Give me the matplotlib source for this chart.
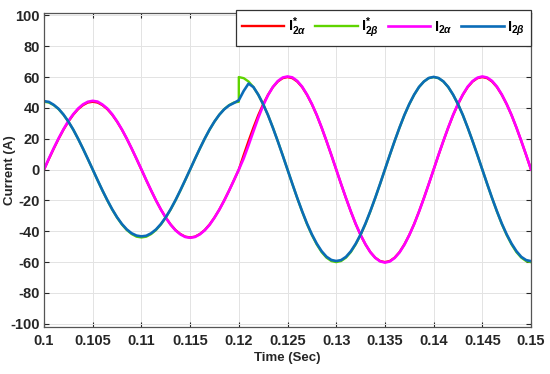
import numpy as np
import matplotlib
matplotlib.use('Agg')
import matplotlib.pyplot as plt

plt.rcParams['font.family'] = ['Liberation Sans', 'DejaVu Sans']
plt.rcParams['font.weight'] = 'bold'
plt.rcParams['axes.unicode_minus'] = False
plt.rcParams['mathtext.fontset'] = 'custom'
plt.rcParams['mathtext.rm'] = 'Liberation Sans:bold'
plt.rcParams['mathtext.bf'] = 'Liberation Sans:bold'
plt.rcParams['mathtext.it'] = 'Liberation Sans:bold:italic'

# time grid, 0.5 ms step
t_pre = np.linspace(0.1, 0.12, 41)
t_post = np.linspace(0.12, 0.15, 61)
t_all = np.linspace(0.1, 0.15, 101)

# references (before / after the step at 0.12 s)
i2a_ref_pre = [0, 6.9, 13.6, 20.0, 25.9, 31.1, 35.6, 39.2, 41.8, 43.5, 44.0,
               43.5, 41.8, 39.2, 35.6, 31.1, 25.9, 20.0, 13.6, 6.9, 0,
               -6.9, -13.6, -20.0, -25.9, -31.1, -35.6, -39.2, -41.8, -43.5, -44.0,
               -43.5, -41.8, -39.2, -35.6, -31.1, -25.9, -20.0, -13.6, -6.9, 0]
i2a_ref_post = [0, 9.4, 18.5, 27.2, 35.3, 42.4, 48.5, 53.5, 57.1, 59.3, 60,
                59.3, 57.1, 53.5, 48.5, 42.4, 35.3, 27.2, 18.5, 9.4, 0,
                -9.4, -18.5, -27.2, -35.3, -42.4, -48.5, -53.5, -57.1, -59.3, -60,
                -59.3, -57.1, -53.5, -48.5, -42.4, -35.3, -27.2, -18.5, -9.4, 0,
                9.4, 18.5, 27.2, 35.3, 42.4, 48.5, 53.5, 57.1, 59.3, 60,
                59.3, 57.1, 53.5, 48.5, 42.4, 35.3, 27.2, 18.5, 9.4, 0]
i2b_ref_pre = [44.0, 43.5, 41.8, 39.2, 35.6, 31.1, 25.9, 20.0, 13.6, 6.9, 0,
               -6.9, -13.6, -20.0, -25.9, -31.1, -35.6, -39.2, -41.8, -43.5, -44.0,
               -43.5, -41.8, -39.2, -35.6, -31.1, -25.9, -20.0, -13.6, -6.9, 0,
               6.9, 13.6, 20.0, 25.9, 31.1, 35.6, 39.2, 41.8, 43.5, 44.0]
i2b_ref_post = [60, 59.3, 57.1, 53.5, 48.5, 42.4, 35.3, 27.2, 18.5, 9.4, 0,
                -9.4, -18.5, -27.2, -35.3, -42.4, -48.5, -53.5, -57.1, -59.3, -60,
                -59.3, -57.1, -53.5, -48.5, -42.4, -35.3, -27.2, -18.5, -9.4, 0,
                9.4, 18.5, 27.2, 35.3, 42.4, 48.5, 53.5, 57.1, 59.3, 60,
                59.3, 57.1, 53.5, 48.5, 42.4, 35.3, 27.2, 18.5, 9.4, 0,
                -9.4, -18.5, -27.2, -35.3, -42.4, -48.5, -53.5, -57.1, -59.3, -60]

# measured currents
i2a_meas = [0, 7.2, 13.9, 20.3, 26.2, 31.5, 35.9, 39.6, 42.3, 44.0, 44.6,
            44.1, 42.2, 39.6, 35.9, 31.3, 26.0, 20.1, 13.7, 7.0, 0.2,
            -6.8, -13.5, -20.0, -25.9, -31.2, -35.7, -39.4, -42.0, -43.7, -44.2,
            -43.7, -42.0, -39.4, -35.8, -31.2, -26.0, -20.1, -13.7, -6.9, 0,
            7.2, 15.8, 24.8, 33.6, 41.6, 48.3, 53.6, 57.4, 59.7, 60.4,
            59.8, 57.5, 53.8, 48.7, 42.6, 35.5, 27.4, 18.6, 9.5, 0.1,
            -9.3, -18.4, -27.1, -35.2, -42.3, -48.4, -53.5, -57.2, -59.5, -60.3,
            -59.6, -57.3, -53.7, -48.7, -42.5, -35.4, -27.3, -18.6, -9.4, 0,
            9.5, 18.6, 27.3, 35.5, 42.6, 48.7, 53.8, 57.4, 59.6, 60.4,
            59.7, 57.5, 53.8, 48.7, 42.5, 35.4, 27.3, 18.6, 9.5, 0.1]
i2b_meas = [44.4, 43.9, 42.0, 39.4, 35.7, 31.2, 26.0, 20.0, 13.6, 6.9, 0.1,
            -6.8, -13.5, -19.8, -25.7, -30.9, -35.3, -38.8, -41.3, -42.8, -43.3,
            -42.9, -41.3, -38.8, -35.3, -30.9, -25.7, -19.8, -13.4, -6.7, 0.1,
            7.0, 13.7, 20.1, 26.0, 31.2, 35.6, 39.1, 41.6, 43.2, 45.0,
            51.0, 55.8, 53.5, 48.6, 42.4, 35.3, 27.1, 18.4, 9.3, 0,
            -9.3, -18.4, -27.0, -35.0, -42.0, -48.0, -52.9, -56.5, -58.6, -59.3,
            -58.7, -56.6, -53.0, -48.1, -42.1, -35.0, -27.0, -18.4, -9.3, 0.1,
            9.5, 18.6, 27.3, 35.4, 42.5, 48.6, 53.6, 57.1, 59.4, 60.1,
            59.4, 57.2, 53.6, 48.6, 42.5, 35.4, 27.2, 18.5, 9.4, 0,
            -9.3, -18.4, -27.0, -35.0, -42.0, -48.0, -52.9, -56.6, -58.7, -59.4]

x_ticks = [0.1, 0.105, 0.11, 0.115, 0.12, 0.125, 0.13, 0.135, 0.14, 0.145, 0.15]
x_labels = ['0.1', '0.105', '0.11', '0.115', '0.12', '0.125', '0.13', '0.135', '0.14', '0.145', '0.15']
y_ticks = [-100, -80, -60, -40, -20, 0, 20, 40, 60, 80, 100]

fig = plt.figure(figsize=(5.5, 3.74), dpi=100)
ax = fig.add_axes([0.08, 0.126, 0.8855, 0.839])

ax.plot(np.concatenate([t_pre, t_post]), i2a_ref_pre + i2a_ref_post, color='#ff0000', lw=1.7,
        label=r'$\mathbf{I}^{*}_{\mathbf{2}\alpha}$')
ax.plot(np.concatenate([t_pre, t_post]), i2b_ref_pre + i2b_ref_post, color='#5fd400', lw=1.7,
        label=r'$\mathbf{I}^{*}_{\mathbf{2}\beta}$')
ax.plot(t_all, i2a_meas, color='#ff00ff', lw=1.9, label=r'$\mathbf{I}_{\mathbf{2}\alpha}$')
ax.plot(t_all, i2b_meas, color='#0b6cb8', lw=1.9, label=r'$\mathbf{I}_{\mathbf{2}\beta}$')

ax.set_xlim(0.1, 0.15)
ax.set_ylim(-102, 101.5)
ax.set_xticks(x_ticks)
ax.set_xticklabels(x_labels)
ax.set_yticks(y_ticks)
ax.grid(True, color='#e3e3e3', lw=0.7)
ax.tick_params(direction='in', top=True, right=True, length=3.5, width=0.8,
               colors='#262626', labelsize=10.5)
ax.tick_params(axis='x', pad=5)
ax.tick_params(axis='y', pad=3)
for s in ax.spines.values():
    s.set_color('#555555')
    s.set_linewidth(0.9)

ax.set_xlabel('Time (Sec)', fontsize=9.5, fontweight='bold', color='#262626', labelpad=3)
ax.set_ylabel('Current (A)', fontsize=9.5, fontweight='bold', color='#262626')
ax.yaxis.set_label_coords(-0.058, 0.5)

leg = ax.legend(loc='upper right', bbox_to_anchor=(1.0, 1.01), ncol=4, fontsize=10.5,
                frameon=True, fancybox=False, borderaxespad=0, handlelength=2.9,
                handletextpad=0.25, columnspacing=0.6, borderpad=0.4)
leg.get_frame().set_edgecolor('#333333')
leg.get_frame().set_linewidth(0.9)
leg.get_frame().set_alpha(1)

fig.savefig('out.png', dpi=100)
